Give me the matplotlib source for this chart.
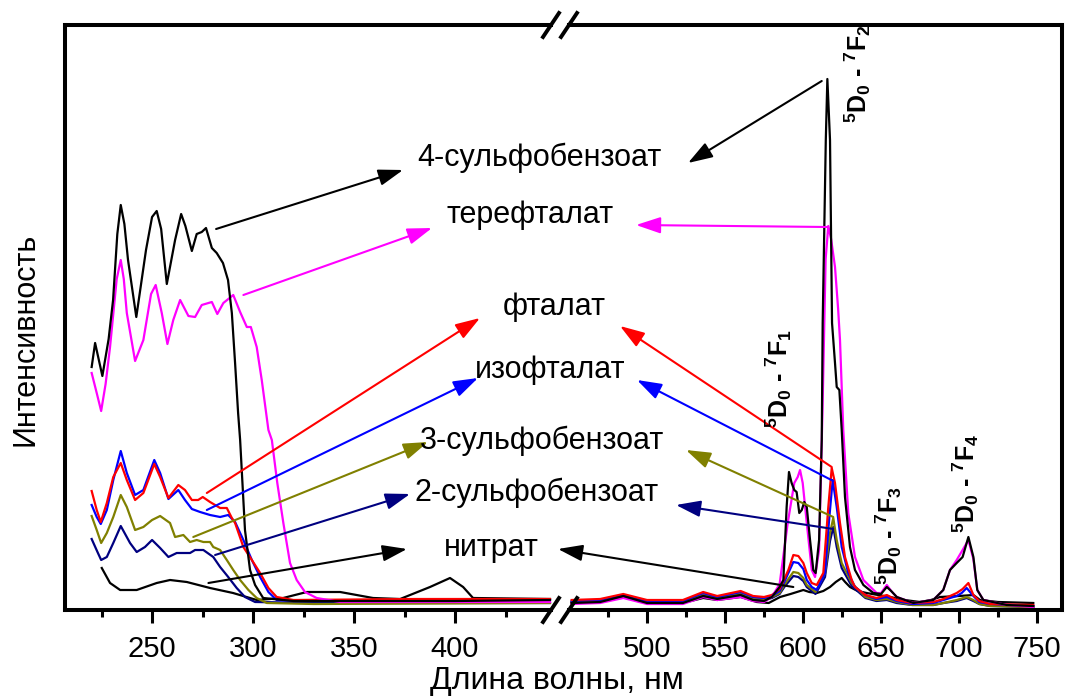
import matplotlib
matplotlib.use("Agg")
import matplotlib.pyplot as plt
from matplotlib.lines import Line2D

plt.rcParams['font.family'] = ['Liberation Sans', 'DejaVu Sans']
plt.rcParams['mathtext.fontset'] = 'custom'
plt.rcParams['mathtext.rm'] = 'Liberation Sans:bold'
plt.rcParams['mathtext.it'] = 'Liberation Sans:bold'
plt.rcParams['mathtext.bf'] = 'Liberation Sans:bold'
plt.rcParams['mathtext.default'] = 'rm'

# ---------------- excitation spectra (left panel) ----------------
exc_nm_sulfo4 = [220.1, 221.8, 225.4, 228.5, 230.7, 232.8, 234.5, 236.3, 238.1, 242.2, 247.0, 250.0,
                 252.3, 254.5, 257.3, 261.4, 264.4, 266.5, 269.7, 272.1, 274.6, 276.7, 279.6, 282.0,
                 285.1, 287.6, 289.5, 291.1, 292.6, 293.6, 296.0, 298.5, 301.0, 305.0, 320, 350,
                 400, 447]
exc_I_sulfo4 = [242, 266, 233, 270, 309, 375, 404, 385, 349, 292, 359, 392,
                398, 380, 325, 369, 395, 383, 358, 375, 377, 381, 361, 356,
                346, 329, 296, 246, 196, 169, 79, 39, 24, 11, 8, 8,
                8, 9]

exc_nm_tere = [220.1, 222.6, 224.8, 227.0, 229.2, 232.5, 234.5, 236.0, 237.5, 241.6, 245.7, 249.5,
               251.8, 254.8, 257.6, 260.5, 263.9, 268.0, 271.3, 274.6, 279.6, 282.3, 285.3, 290.2,
               293.6, 296.9, 298.9, 301.8, 304.3, 307.6, 309.3, 312.0, 315.0, 318.3, 321.6, 325.7,
               331.5, 343.1, 400, 447]
exc_I_tere = [236, 216, 198, 225, 262, 330, 349, 330, 296, 248, 269, 315,
              324, 296, 265, 289, 309, 293, 292, 304, 307, 295, 306, 314,
              297, 282, 282, 262, 229, 179, 169, 126, 86, 46, 29, 17,
              11, 7, 7, 7]

exc_nm_phth = [220.1, 222.6, 224.6, 227.6, 230.8, 234.5, 237.5, 241.6, 245.7, 251.1, 254.0, 258.1,
               263.0, 266.3, 269.7, 272.8, 275.1, 278.7, 283.7, 287.0, 289.5, 291.1, 295.2, 299.4,
               303.5, 307.6, 311.7, 320, 380, 447]
exc_I_phth = [118, 99, 87, 106, 132, 146, 129, 109, 116, 145, 132, 111,
              124, 119, 109, 109, 112, 107, 101, 101, 91, 86, 62, 49,
              36, 21, 12, 9, 10, 10]

exc_nm_iso = [220.1, 222.6, 224.6, 227.6, 230.8, 234.5, 237.5, 241.6, 245.7, 251.1, 254.0, 258.1,
              263.0, 266.3, 269.7, 273.8, 278.7, 283.7, 287.7, 291.1, 295.2, 299.4, 303.5, 307.6,
              311.7, 320, 380, 447]
exc_I_iso = [104, 92, 85, 99, 129, 158, 136, 114, 119, 149, 136, 110,
             119, 109, 100, 97, 94, 92, 94, 87, 69, 49, 32, 17,
             9, 8, 9, 9]

exc_nm_sulfo3 = [220.1, 222.6, 224.8, 227.6, 230.8, 234.5, 237.5, 241.6, 245.7, 250.0, 254.0, 258.9,
                 261.4, 265.5, 268.8, 272.1, 275.4, 278.7, 280.3, 283.7, 287.0, 290.2, 293.6, 297.7,
                 301.8, 306.8, 330, 447]
exc_I_sulfo3 = [93, 79, 66, 76, 92, 114, 102, 79, 82, 89, 93, 86,
                72, 74, 67, 69, 67, 67, 62, 59, 49, 39, 29, 19,
                11, 6, 5, 6]

exc_nm_sulfo2 = [220.1, 223.2, 224.8, 227.6, 230.8, 234.5, 239.1, 242.4, 246.5, 250.0, 254.0, 258.1,
                 262.2, 266.3, 268.8, 271.3, 275.4, 280.3, 283.7, 287.7, 291.9, 296.0, 301.0, 330, 447]
exc_I_sulfo2 = [70, 56, 49, 52, 66, 83, 66, 57, 62, 69, 61, 52,
                56, 56, 56, 59, 59, 52, 42, 32, 21, 12, 7, 6, 6]

exc_nm_nitr = [225.1, 229.2, 234.2, 242.4, 252.3, 258.9, 267.2, 278.7, 290.1, 301.8, 314.9, 326.6,
               343.1, 359.4, 372.8, 387.6, 397.5, 404.0, 408.9, 447]
exc_I_nitr = [41, 26, 19, 19, 26, 29, 27, 21, 16, 9, 11, 17,
              17, 11, 10, 22, 31, 22, 11, 10]

# ---------------- emission spectra (right panel) ----------------
em_nm_sulfo4 = [451.7, 470, 484.8, 500, 523, 536, 545, 560, 568, 575, 580, 585, 587.4, 589.5, 591,
                592.7, 594.4, 595.9, 597.6, 599.2, 600.8, 602.4, 604.5, 606.6, 608.1, 610.3, 612,
                612.6, 614.6, 615.6, 617.3, 618.6, 620.5, 621.6, 623.3, 624.8, 626.9, 630.1, 633.3,
                638.7, 645.1, 650, 653.7, 656.5, 660.1, 670.7, 683.5, 689.9, 694.2, 698.5, 702.3,
                706, 709.2, 711.7, 715.6, 730.6, 747.6]
em_I_sulfo4 = [6, 7, 13, 6, 6, 13, 10, 14, 9, 8, 12, 22, 29, 102, 137,
               126, 119, 117, 96, 99, 107, 102, 69, 39, 36, 69, 169,
               286, 469, 530, 469, 286, 246, 222, 219, 179, 112, 62, 39,
               24, 16, 15, 22, 18, 12, 6, 9, 19, 39, 46, 52,
               72, 52, 19, 9, 4, 3]

em_nm_tere = [451.7, 470, 484.8, 500, 523, 536, 545, 560, 568, 575, 580, 585, 590.2, 594.4, 596.6,
              598.1, 599.8, 602.4, 605.6, 607.7, 610.3, 612.5, 614.5, 616.2, 618, 620.5, 622.5,
              623.7, 625.8, 629, 633.3, 638.7, 647.2, 650, 653.7, 656.5, 660.1, 670.7, 683.5,
              689.9, 694.2, 698.5, 702.3, 706, 709.2, 711.7, 715.6, 730.6, 747.6]
em_I_tere = [5, 6, 11, 5, 5, 12, 9, 12, 8, 7, 12, 25, 86, 126, 132,
             139, 126, 86, 39, 32, 59, 200, 350, 383, 370, 342, 300,
             269, 179, 96, 52, 29, 16, 16, 24, 18, 12, 6, 9,
             19, 39, 49, 59, 69, 50, 19, 9, 4, 2]

em_nm_phth = [451.7, 470, 484.8, 500, 523, 536, 545, 560, 568, 575, 580, 585, 588, 590.6, 593.8,
              597, 600.2, 602.4, 605.6, 608.8, 613, 616.2, 618.4, 620.5, 623.7, 626.9, 631.2,
              633.3, 640, 647, 653.7, 660, 670, 683.5, 690, 698.5, 702.3, 706, 709.2, 713, 720, 747.6]
em_I_phth = [9, 10, 15, 9, 9, 17, 13, 18, 13, 12, 14, 20, 30, 39, 54,
             53, 46, 36, 26, 24, 36, 102, 141, 126, 86, 52, 29,
             22, 14, 11, 14, 9, 6, 7, 10, 16, 20, 26, 14, 8, 5, 4]

em_nm_iso = [451.7, 470, 484.8, 500, 523, 536, 545, 560, 568, 575, 580, 585, 588, 590.6, 593.8,
             597, 600.2, 602.4, 605.6, 608.8, 614.1, 616.5, 619, 621.6, 624.8, 629, 633.3,
             640, 647, 653.7, 660, 670, 683.5, 690, 698.5, 701.7, 704.9, 709.2, 713, 720, 747.6]
em_I_iso = [8, 9, 14, 8, 8, 16, 12, 17, 12, 11, 13, 18, 27, 36, 47,
            46, 40, 29, 22, 19, 36, 85, 129, 102, 62, 36, 22,
            14, 10, 12, 8, 5, 6, 9, 13, 16, 21, 13, 7, 5, 3]

em_nm_sulfo3 = [451.7, 470, 484.8, 500, 523, 536, 545, 560, 568, 575, 580, 585, 588, 590.6, 593.8,
                597, 600.2, 602.4, 605.6, 608, 614.1, 617.3, 619.4, 621.6, 624.8, 631.2, 640,
                647, 653.7, 660, 670, 683.5, 690, 698.5, 704.9, 709.2, 713, 720, 747.6]
em_I_sulfo3 = [7, 8, 13, 7, 7, 15, 11, 16, 11, 10, 12, 16, 24, 30, 37,
               36, 31, 24, 20, 17, 36, 76, 91, 69, 46, 26, 12,
               9, 10, 7, 4, 4, 6, 9, 12, 9, 5, 3, 2]

em_nm_sulfo2 = [451.7, 470, 484.8, 500, 523, 536, 545, 560, 568, 575, 580, 585, 588, 590.6, 593.8,
                597, 600.2, 602.4, 605.6, 608, 614.1, 617.3, 619.4, 621.6, 624.8, 631.2, 640,
                647, 653.7, 660, 670, 683.5, 690, 698.5, 704.9, 709.2, 713, 720, 747.6]
em_I_sulfo2 = [7, 8, 13, 7, 7, 14, 10, 15, 10, 9, 11, 15, 22, 27, 33,
               32, 28, 22, 18, 15, 32, 68, 82, 62, 41, 23, 11,
               8, 9, 6, 4, 4, 6, 8, 11, 8, 5, 3, 2]

em_nm_nitr = [451.7, 470, 484.8, 500, 523, 536, 545, 560, 570.3, 578, 585.3, 592, 600.2, 604,
              608.8, 613, 617.3, 621, 624.8, 627, 630.1, 635, 640.8, 648, 655.8, 665, 675, 682,
              687.8, 700, 709.2, 713.5, 725, 747.6]
em_I_nitr = [6, 7, 12, 6, 6, 11, 9, 12, 7, 6, 12, 15, 19, 17,
             16, 18, 22, 27, 31, 27, 22, 18, 16, 14, 12, 9, 7, 9,
             12, 13, 14, 9, 7, 6]

# ---------------- labels ----------------
names = ['4-сульфобензоат', 'терефталат', 'фталат', 'изофталат',
         '3-сульфобензоат', '2-сульфобензоат', 'нитрат']
colors = ['#000000', '#ff00ff', '#ff0000', '#0000ff', '#808000', '#000080', '#000000']
transitions = [r'$^{5}$D$_{0}$ - $^{7}$F$_{1}$', r'$^{5}$D$_{0}$ - $^{7}$F$_{2}$',
               r'$^{5}$D$_{0}$ - $^{7}$F$_{3}$', r'$^{5}$D$_{0}$ - $^{7}$F$_{4}$']
xticks_exc = [250, 300, 350, 400]
xticks_em = [500, 550, 600, 650, 700, 750]

exc = [(exc_nm_sulfo4, exc_I_sulfo4), (exc_nm_tere, exc_I_tere), (exc_nm_phth, exc_I_phth),
       (exc_nm_iso, exc_I_iso), (exc_nm_sulfo3, exc_I_sulfo3), (exc_nm_sulfo2, exc_I_sulfo2),
       (exc_nm_nitr, exc_I_nitr)]
em = [(em_nm_sulfo4, em_I_sulfo4), (em_nm_tere, em_I_tere), (em_nm_phth, em_I_phth),
      (em_nm_iso, em_I_iso), (em_nm_sulfo3, em_I_sulfo3), (em_nm_sulfo2, em_I_sulfo2),
      (em_nm_nitr, em_I_nitr)]

# ---------------- layout (pixel helpers) ----------------
W, H = 1071, 696
fig = plt.figure(figsize=(W / 100, H / 100), dpi=100)


def fx(px):
    return px / W


def fy(py):
    return 1 - py / H


y_bot, y_top = 610, 25
ax1 = fig.add_axes([fx(65), fy(y_bot), (551 - 65) / W, (y_bot - y_top) / H])
ax2 = fig.add_axes([fx(569), fy(y_bot), (1062 - 569) / W, (y_bot - y_top) / H])
ax1.set_xlim(206.9, 447.5)
ax2.set_xlim(450.0, 766.0)

for ax in (ax1, ax2):
    ax.set_ylim(-1, 584)
    ax.set_yticks([])
    for s in ax.spines.values():
        s.set_linewidth(2.9)
    ax.xaxis.set_ticks_position('bottom')
    ax.tick_params(axis='x', which='major', direction='out', length=9, width=2.2,
                   labelsize=21, pad=9)
    ax.tick_params(axis='x', which='minor', direction='out', length=5, width=2.2)
    ax.patch.set_alpha(0)
ax1.spines['right'].set_visible(False)
ax2.spines['left'].set_visible(False)

ax1.set_xticks(xticks_exc)
ax1.set_xticks([225, 275, 325, 375, 425], minor=True)
ax2.set_xticks(xticks_em)
ax2.set_xticks([475, 525, 575, 625, 675, 725], minor=True)

# curves: draw the weaker ones first so the strong black peaks stay on top
order = [6, 5, 4, 3, 2, 1, 0]
for i in order:
    ax1.plot(exc[i][0], exc[i][1], color=colors[i], lw=1.6, solid_joinstyle='round', clip_on=False)
    ax2.plot(em[i][0], em[i][1], color=colors[i], lw=1.6, solid_joinstyle='round', clip_on=False)

# compound labels with arrows from both spectra
label_pos = [(539, 158), (530, 215), (554, 307), (550, 370), (542, 441), (537, 493), (491, 548)]
left_anchor = [(281.7, 380), (295.2, 314), (277.1, 116), (277.1, 99), (270.4, 72), (281.2, 54), (277.9, 26)]
left_tip = [(403, 170), (432, 228), (480, 318), (478, 378), (428, 442), (410, 494), (407, 549)]
right_anchor = [(612.0, 528), (615.6, 382), (618.4, 142), (619.4, 128), (619.4, 92), (619.4, 80), (593.8, 22)]
right_tip = [(688, 163), (636, 225), (620, 326), (637, 380), (686, 450), (676, 505), (558, 549)]

for i, name in enumerate(names):
    fig.text(fx(label_pos[i][0]), fy(label_pos[i][1]), name, ha='center', va='center', fontsize=22)
    for ax, anchor, tip in ((ax1, left_anchor[i], left_tip[i]), (ax2, right_anchor[i], right_tip[i])):
        ax.annotate('', xy=(fx(tip[0]), fy(tip[1])), xycoords='figure fraction',
                    xytext=anchor, textcoords='data',
                    arrowprops=dict(arrowstyle='-|>,head_length=0.75,head_width=0.25',
                                    mutation_scale=20, color=colors[i], lw=1.5,
                                    shrinkA=0, shrinkB=0),
                    annotation_clip=False)

# transition labels
trans_pos = [(779, 378), (858, 74), (889, 536), (966, 483)]
for t, (px, py) in zip(transitions, trans_pos):
    fig.text(fx(px), fy(py), t, rotation=90, ha='center', va='center', fontsize=18,
             fontweight='bold')

# axis titles
fig.text(fx(557), fy(681), 'Длина волны, нм', ha='center', va='center', fontsize=23)
fig.text(fx(26), fy(339), 'Интенсивность', ha='center', va='center', rotation=90, fontsize=22)

# axis break marks
for cx in (551, 569):
    for cy in (y_bot, y_top):
        fig.add_artist(Line2D([fx(cx - 8), fx(cx + 8)], [fy(cy + 12), fy(cy - 12)],
                              color='black', lw=2.8, transform=fig.transFigure))

fig.savefig('out.png', dpi=100)
